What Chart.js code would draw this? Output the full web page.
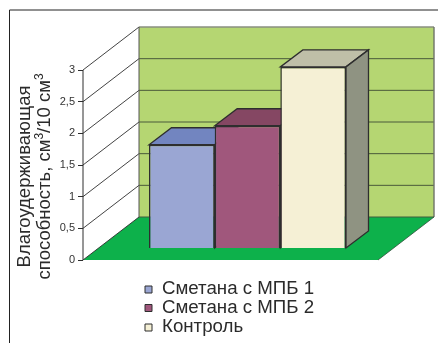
<!DOCTYPE html>
<html>
<head>
<meta charset="utf-8">
<script src="https://cdn.jsdelivr.net/npm/chart.js@4"></script>
<style>
    html, body { margin: 0; padding: 0; background: #fff; }
    #wrap { position: relative; width: 438px; height: 343px; }
</style>
</head>
<body>
<div id="wrap"><canvas id="chart" width="438" height="343"></canvas></div>
<script>
const seriesNames = ['Сметана с МПБ 1', 'Сметана с МПБ 2', 'Контроль'];
const seriesValues = [1.63, 1.93, 2.86];
const frontColors = ['#9aa6d3', '#a0577c', '#f5f0d5'];
const topColors = ['#7285c0', '#854763', '#bfbfa8'];
const sideColors = ['#6f7fb0', '#7e4561', '#8f9382'];
const tickValues = [0, 0.5, 1, 1.5, 2, 2.5, 3];
const titleLine1 = 'Влагоудерживающая';
// pieces of the second title line, true marks a superscript
const titleLine2 = [['способность, см', false], ['3', true], ['/10 см', false], ['3', true]];

const LINE = '#2e2e2e';
const TEXT = '#2b2b2b';
const FONT = '"Liberation Sans", Arial, sans-serif';

// how far the back wall sits behind the front plane, and the floor's width
const DEPTH_X = 56;
const DEPTH_Y = 43;
const FLOOR_W = 295;
const BAR_DX = 22.5;
const BAR_DY = 17;

function poly(ctx, pts, fill, stroke, width) {
    ctx.beginPath();
    pts.forEach((p, i) => i ? ctx.lineTo(p[0], p[1]) : ctx.moveTo(p[0], p[1]));
    ctx.closePath();
    if (fill) { ctx.fillStyle = fill; ctx.fill(); }
    if (stroke) { ctx.strokeStyle = stroke; ctx.lineWidth = width; ctx.stroke(); }
}

function seg(ctx, x1, y1, x2, y2, color, width) {
    ctx.beginPath();
    ctx.moveTo(x1, y1);
    ctx.lineTo(x2, y2);
    ctx.strokeStyle = color;
    ctx.lineWidth = width;
    ctx.stroke();
}

// rotated axis title, two centred lines with real superscripts on the second
function drawAxisTitle(ctx) {
    const big = '18.5px ' + FONT;
    const small = '12px ' + FONT;
    const centre = 176.5;
    ctx.save();
    ctx.fillStyle = TEXT;
    ctx.textBaseline = 'alphabetic';
    ctx.translate(0, centre);
    ctx.rotate(-Math.PI / 2);
    ctx.font = big;
    ctx.fillText(titleLine1, -ctx.measureText(titleLine1).width / 2, 29.5);
    let total = 0;
    titleLine2.forEach(([s, sup]) => {
        ctx.font = sup ? small : big;
        total += ctx.measureText(s).width;
    });
    let pos = -total / 2;
    titleLine2.forEach(([s, sup]) => {
        ctx.font = sup ? small : big;
        ctx.fillText(s, pos, sup ? 43 : 50);
        pos += ctx.measureText(s).width;
    });
    ctx.restore();
}

// walls, floor and the depth faces of the bars
const box3d = {
    id: 'box3d',
    beforeDatasetsDraw(chart) {
        const ctx = chart.ctx;
        const y = chart.scales.y;
        const x0 = chart.chartArea.left;
        const x1 = x0 + FLOOR_W;
        const y0 = y.getPixelForValue(0);
        const y3 = y.getPixelForValue(3);
        ctx.save();

        // page frame
        seg(ctx, 9.5, 10, 438, 10, '#222', 1);
        seg(ctx, 9.5, 10, 9.5, 343, '#222', 1);

        poly(ctx, [[x0, y0], [x0 + DEPTH_X, y0 - DEPTH_Y], [x0 + DEPTH_X, y3 - DEPTH_Y], [x0, y3]], '#ffffff', null);
        poly(ctx, [[x0 + DEPTH_X, y0 - DEPTH_Y], [x1 + DEPTH_X, y0 - DEPTH_Y], [x1 + DEPTH_X, y3 - DEPTH_Y], [x0 + DEPTH_X, y3 - DEPTH_Y]], '#b5d672', null);
        poly(ctx, [[x0, y0], [x1, y0], [x1 + DEPTH_X, y0 - DEPTH_Y], [x0 + DEPTH_X, y0 - DEPTH_Y]], '#0db14b', null);

        // grid runs along the side wall, then across the back wall
        tickValues.forEach(v => {
            const py = y.getPixelForValue(v);
            seg(ctx, x0, py, x0 + DEPTH_X, py - DEPTH_Y, LINE, 0.9);
            if (v > 0 && v < 3) {
                seg(ctx, x0 + DEPTH_X, py - DEPTH_Y, x1 + DEPTH_X, py - DEPTH_Y, '#4a5a3a', 1);
            }
        });
        seg(ctx, x0 + DEPTH_X, y3 - DEPTH_Y, x1 + DEPTH_X, y3 - DEPTH_Y, '#8a8f80', 1.4);
        seg(ctx, x1 + DEPTH_X, y3 - DEPTH_Y, x1 + DEPTH_X, y0 - DEPTH_Y, '#6d7268', 1.4);
        seg(ctx, x0 + DEPTH_X, y3 - DEPTH_Y, x0 + DEPTH_X, y0 - DEPTH_Y, '#555', 1);
        seg(ctx, x0 + DEPTH_X, y0 - DEPTH_Y, x1 + DEPTH_X, y0 - DEPTH_Y, '#3f5f3f', 1);
        seg(ctx, x1, y0, x1 + DEPTH_X, y0 - DEPTH_Y, '#2f4f3a', 0.8);
        seg(ctx, x0, y3, x0, y0, LINE, 1);

        // tops and side faces, the fronts are the real bars drawn afterwards
        chart.data.datasets.forEach((ds, i) => {
            const bar = chart.getDatasetMeta(i).data[0];
            const half = bar.width / 2;
            const l = bar.x - half;
            const r = bar.x + half;
            const t = bar.y;
            const b = bar.base;
            poly(ctx, [[l, t], [r, t], [r + BAR_DX, t - BAR_DY], [l + BAR_DX, t - BAR_DY]], topColors[i], LINE, 1.3);
            poly(ctx, [[r, t], [r + BAR_DX, t - BAR_DY], [r + BAR_DX, b - BAR_DY], [r, b]], sideColors[i], LINE, 1.3);
        });
        ctx.restore();
    },
    afterDraw(chart) {
        const ctx = chart.ctx;
        drawAxisTitle(ctx);

        // legend stacked under the plot, one entry per line
        const rows = [289, 307.5, 327];
        ctx.save();
        ctx.font = '18.7px ' + FONT;
        ctx.textBaseline = 'middle';
        seriesNames.forEach((name, i) => {
            poly(ctx, [[145, rows[i] - 3], [152, rows[i] - 3], [152, rows[i] + 4], [145, rows[i] + 4]], frontColors[i], LINE, 1);
            ctx.fillStyle = TEXT;
            ctx.fillText(name, 162, rows[i]);
        });
        ctx.restore();
    }
};

// bars sit forward of the back wall, so their zero is above the axis zero
const barsY = { min: -12 / 63.33, max: (248 - 27) / 63.33 };

new Chart(document.getElementById('chart'), {
    type: 'bar',
    data: {
        labels: [''],
        datasets: seriesNames.map((name, i) => ({
            label: name,
            data: [seriesValues[i]],
            yAxisID: 'barsY',
            backgroundColor: frontColors[i],
            borderColor: LINE,
            borderWidth: 1.5,
            barPercentage: 1,
            categoryPercentage: 197 / 329
        }))
    },
    options: {
        responsive: false,
        animation: false,
        events: [],
        layout: { padding: { left: 0, right: 26, top: 27, bottom: 83 } },
        plugins: { legend: { display: false }, tooltip: { enabled: false } },
        scales: {
            x: { display: false },
            barsY: { display: false, min: barsY.min, max: barsY.max },
            y: {
                position: 'left',
                min: 0,
                max: 233 / 63.33,
                afterBuildTicks(scale) {
                    scale.ticks = tickValues.map(v => ({ value: v }));
                },
                afterFit(scale) { scale.width = 83; },
                border: { display: false },
                grid: { drawOnChartArea: false, drawTicks: true, tickLength: 5, color: LINE },
                ticks: {
                    color: '#333',
                    padding: 3,
                    font: { family: FONT, size: 11 },
                    callback: v => String(v).replace('.', ',')
                }
            }
        }
    },
    plugins: [box3d]
});
</script>
</body>
</html>
